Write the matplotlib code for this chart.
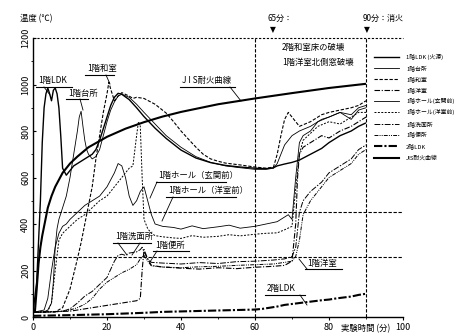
import matplotlib
matplotlib.use("Agg")
import matplotlib.pyplot as plt
from matplotlib.lines import Line2D

plt.rcParams['font.family'] = ['Noto Sans CJK JP', 'DejaVu Sans']

# ---- measured temperatures (time in minutes, temperature in deg C) ----
t_ldk1 = [0, 1, 2, 2.5, 3, 3.5, 4, 4.5, 5, 5.5, 6, 6.5, 7, 7.5, 8, 9, 10, 11, 12, 13, 14, 15, 16, 17, 18,
          19, 20, 21, 22, 23, 24, 26, 28, 30, 33, 36, 40, 44, 48, 52, 56, 60, 63, 65, 66, 68, 70, 72, 75,
          78, 80, 83, 86, 88, 90]
T_ldk1 = [20, 150, 500, 750, 900, 960, 985, 960, 930, 975, 985, 960, 900, 780, 640, 610, 630, 650, 660,
          670, 680, 690, 700, 720, 760, 810, 860, 910, 945, 962, 958, 935, 900, 862, 812, 768, 718, 684,
          664, 652, 645, 640, 638, 642, 650, 658, 665, 675, 700, 725, 750, 780, 800, 820, 835]

t_kitchen = [0, 3, 4, 5, 5.5, 6, 6.5, 7, 8, 9, 10, 11, 12, 12.5, 13, 13.5, 14, 14.5, 15, 16, 17, 18, 19,
             20, 21, 22, 23, 24, 26, 28, 30, 33, 36, 40, 44, 48, 52, 56, 60, 63, 65, 66, 67, 68, 70, 72,
             75, 78, 80, 83, 86, 88, 90]
T_kitchen = [20, 22, 30, 60, 150, 300, 380, 420, 470, 520, 600, 700, 800, 860, 885, 820, 760, 720, 700,
             680, 690, 720, 780, 840, 890, 925, 950, 958, 945, 915, 880, 830, 780, 730, 690, 665, 650,
             642, 635, 635, 640, 660, 700, 740, 780, 800, 820, 850, 860, 880, 870, 900, 910]

t_washitsu = [0, 6, 8, 10, 12, 13, 14, 15, 16, 17, 18, 19, 20, 20.5, 21, 22, 23, 24, 26, 27, 28, 30, 33,
              36, 38, 40, 42, 44, 46, 48, 50, 52, 56, 60, 63, 65, 66, 67, 68, 69, 70, 72, 75, 78, 80, 83,
              86, 88, 90]
T_washitsu = [20, 22, 40, 120, 250, 320, 400, 480, 560, 680, 780, 880, 960, 1010, 980, 930, 950, 965,
              950, 940, 945, 940, 915, 877, 840, 800, 765, 731, 700, 680, 670, 662, 654, 645, 640, 645,
              700, 780, 850, 880, 860, 820, 840, 870, 880, 890, 900, 910, 930]

t_youshitsu = [0, 10, 14, 18, 22, 26, 28, 29, 29.5, 30, 31, 32, 35, 40, 45, 50, 55, 60, 65, 68, 70, 71,
               71.5, 72, 73, 75, 78, 80, 83, 86, 88, 90]
T_youshitsu = [20, 25, 35, 45, 55, 65, 70, 80, 200, 290, 250, 222, 215, 210, 206, 212, 208, 214, 218, 222,
               240, 400, 600, 700, 730, 750, 780, 770, 800, 820, 840, 860]

t_hall_g = [0, 3, 4, 5, 6, 7, 8, 9, 10, 12, 14, 16, 18, 20, 22, 23, 24, 25, 26, 27, 28, 29, 30, 31, 32,
            33, 35, 38, 40, 43, 46, 50, 53, 56, 60, 63, 66, 68, 69, 70, 71, 72, 73, 75, 77, 80, 83, 86,
            88, 90]
T_hall_g = [20, 30, 80, 200, 300, 360, 390, 400, 420, 450, 480, 500, 520, 560, 620, 660, 650, 600, 520,
            480, 500, 540, 560, 500, 440, 400, 390, 385, 378, 392, 380, 388, 395, 382, 390, 400, 410,
            430, 440, 420, 600, 750, 780, 800, 840, 860, 880, 850, 890, 900]

t_hall_y = [0, 4, 5, 6, 7, 8, 10, 12, 14, 16, 18, 20, 22, 24, 26, 27, 28, 28.5, 29, 29.5, 30, 31, 32, 33,
            35, 38, 40, 43, 46, 50, 53, 56, 60, 63, 66, 68, 70, 71, 72, 73, 75, 77, 80, 83, 86, 88, 90]
T_hall_y = [20, 25, 60, 200, 330, 360, 390, 420, 440, 470, 500, 520, 560, 600, 640, 650, 780, 840, 820,
            600, 420, 380, 360, 350, 345, 340, 338, 350, 343, 347, 354, 349, 356, 360, 362, 375, 390,
            550, 700, 760, 790, 820, 840, 830, 860, 880, 880]

t_senmen = [0, 8, 10, 12, 14, 16, 18, 20, 22, 23, 24, 25, 26, 28, 29, 29.5, 30, 31, 32, 35, 40, 45, 50,
            55, 60, 65, 68, 70, 71, 72, 73, 75, 78, 80, 83, 86, 88, 90]
T_senmen = [20, 25, 35, 60, 90, 110, 140, 170, 240, 265, 270, 265, 275, 280, 290, 300, 280, 250, 235,
            232, 228, 234, 230, 238, 240, 245, 250, 260, 300, 450, 500, 540, 580, 620, 650, 680, 720, 740]

t_benjo = [0, 6, 8, 10, 12, 14, 16, 18, 20, 22, 24, 26, 28, 29, 30, 31, 32, 35, 40, 45, 50, 55, 60, 65,
           68, 70, 71, 72, 73, 75, 78, 80, 83, 86, 88, 90]
T_benjo = [20, 22, 25, 30, 40, 55, 80, 120, 150, 170, 190, 205, 225, 250, 265, 240, 220, 215, 212, 216,
           218, 222, 225, 228, 235, 240, 260, 330, 440, 500, 560, 600, 630, 660, 700, 720]

t_ldk2 = [0, 10, 20, 30, 35, 40, 45, 50, 55, 60, 62, 64, 66, 68, 70, 72, 74, 76, 78, 80, 82, 84, 86, 88, 90]
T_ldk2 = [5, 8, 12, 18, 22, 24, 26, 28, 30, 32, 35, 40, 45, 52, 56, 60, 64, 68, 72, 75, 80, 84, 88, 95, 100]

t_jis = [0.5, 1, 1.5, 2, 2.5, 3, 4, 5, 6, 8, 10, 12, 15, 20, 25, 30, 35, 40, 50, 60, 70, 80, 90]
T_jis = [20, 120, 230, 300, 350, 390, 470, 520, 560, 620, 660, 690, 730, 775, 810, 838, 862, 882, 915,
         940, 963, 985, 1003]

series = [
    ("1階LDK (火源)", t_ldk1, T_ldk1, dict(lw=1.0, ls='-')),
    ("1階台所", t_kitchen, T_kitchen, dict(lw=0.6, ls='-')),
    ("1階和室", t_washitsu, T_washitsu, dict(lw=0.8, ls=(0, (3, 1.5)))),
    ("1階洋室", t_youshitsu, T_youshitsu, dict(lw=0.8, ls=(0, (5, 1.5, 1, 1.5)))),
    ("1階ホール(玄関前)", t_hall_g, T_hall_g, dict(lw=0.6, ls='-')),
    ("1階ホール(洋室前)", t_hall_y, T_hall_y, dict(lw=0.7, ls=(0, (2, 1.5)))),
    ("1階洗面所", t_senmen, T_senmen, dict(lw=0.7, ls=(0, (6, 1.5, 1.5, 1.5)))),
    ("1階便所", t_benjo, T_benjo, dict(lw=0.7, ls=(0, (4, 1.2, 1, 1.2, 1, 1.2)))),
    ("2階LDK", t_ldk2, T_ldk2, dict(lw=1.5, ls=(0, (4, 1, 1, 1)))),
    ("JIS耐火曲線", t_jis, T_jis, dict(lw=1.5, ls='-')),
]

W, H = 457, 335
fig = plt.figure(figsize=(W / 100, H / 100), dpi=100)
ax = fig.add_axes([33 / W, 18 / H, 370 / W, 279 / H])
ax.set_xlim(0, 100)
ax.set_ylim(0, 1200)

for name, t, T, st in series:
    ax.plot(t, T, color='black', solid_capstyle='butt', **st)

# frame and reference lines
for s in ('top', 'right'):
    ax.spines[s].set_visible(False)
for s in ('left', 'bottom'):
    ax.spines[s].set_linewidth(1.0)
ax.axhline(1200, color='black', lw=0.8, ls=(0, (2, 1.5)), clip_on=False)
for yv in (450, 260):
    ax.axhline(yv, color='black', lw=0.8, ls=(0, (3, 1.5)))
for xv in (60, 90):
    ax.axvline(xv, color='black', lw=0.8, ls=(0, (3, 1.5)))

ax.set_xticks(range(0, 101, 20))
ax.set_xticks(range(0, 101, 10), minor=True)
ax.set_yticks(range(0, 1201, 200))
ax.set_yticks(range(0, 1201, 100), minor=True)
ax.tick_params(axis='both', which='major', length=2.5, width=0.8, labelsize=6.5, pad=2)
ax.tick_params(axis='both', which='minor', length=1.5, width=0.6)
ax.tick_params(axis='y', direction='in')
for lab in ax.get_yticklabels():
    lab.set_rotation(90)
    lab.set_va('center')


def px(x, y):
    """Convert a figure pixel position to data coordinates."""
    return (x - 33) / 3.7, (317 - y) * 1200 / 279


def label(text, x0, y0, x1, ul_y, leader, fs=6.0):
    tx, ty = px(x0, y0)
    ax.text(tx, ty, text, fontsize=fs, ha='left', va='center', clip_on=False)
    ax.plot([px(x0 - 2, ul_y)[0], px(x1, ul_y)[0]], [px(0, ul_y)[1]] * 2,
            color='black', lw=0.8, clip_on=False)
    for (ax0, ay0, ax1, ay1) in leader:
        p0, p1 = px(ax0, ay0), px(ax1, ay1)
        ax.plot([p0[0], p1[0]], [p0[1], p1[1]], color='black', lw=0.6, clip_on=False)


label("1階LDK", 38, 80, 72, 87, [(44, 87, 50, 95)])
label("1階台所", 68, 93, 88, 99, [(80, 99, 83, 110)])
label("1階和室", 87, 68, 114, 75, [(106, 75, 110, 84)])
label("J I S耐火曲線", 182, 80, 235, 87, [(230, 87, 241, 101)])
label("1階ホール（玄関前）", 158, 175, 226, 182, [(157, 182, 150, 198)])
label("1階ホール（洋室前）", 168, 190, 236, 197, [(173, 197, 162, 221)])
label("1階洗面所", 115, 236, 151, 243, [(118, 243, 127, 255), (140, 243, 132, 255)])
label("1階便所", 155, 245, 189, 251, [(157, 251, 150, 262)])
label("1階洋室", 307, 263, 342, 269, [(307, 269, 299, 259)])
label("2階LDK", 267, 288, 305, 295, [(300, 295, 307, 305)])

# event markers
fig.text(20 / W, 1 - 19 / H, "温度 (℃)", fontsize=6.0, ha='left', va='center')
fig.text(280 / W, 1 - 18 / H, "65分：", fontsize=5.8, ha='center', va='center')
fig.text(383 / W, 1 - 18 / H, "90分：消火", fontsize=5.8, ha='center', va='center')
fig.text(273 / W, 1 - 30 / H, "▼", fontsize=5.5, ha='center', va='center', family='DejaVu Sans')
fig.text(367 / W, 1 - 30 / H, "▼", fontsize=5.5, ha='center', va='center', family='DejaVu Sans')
fig.text(282 / W, 1 - 47 / H, "2階和室床の破壊", fontsize=6.0, ha='left', va='center')
fig.text(282 / W, 1 - 62 / H, "1階洋室北側窓破壊", fontsize=6.0, ha='left', va='center')
fig.text(366 / W, 1 - 329 / H, "実験時間 (分)", fontsize=6.0, ha='center', va='center')

# legend at the right
leg_rows = [57, 68, 79, 90, 101, 112, 124, 135, 146, 158]
for (name, t, T, st), yr in zip(series, leg_rows):
    yf = 1 - yr / H
    fig.add_artist(Line2D([374 / W, 399 / W], [yf, yf], color='black', transform=fig.transFigure, **st))
    fig.text(406 / W, yf, name, fontsize=4.2, ha='left', va='center')

fig.savefig("out.png", dpi=100)
